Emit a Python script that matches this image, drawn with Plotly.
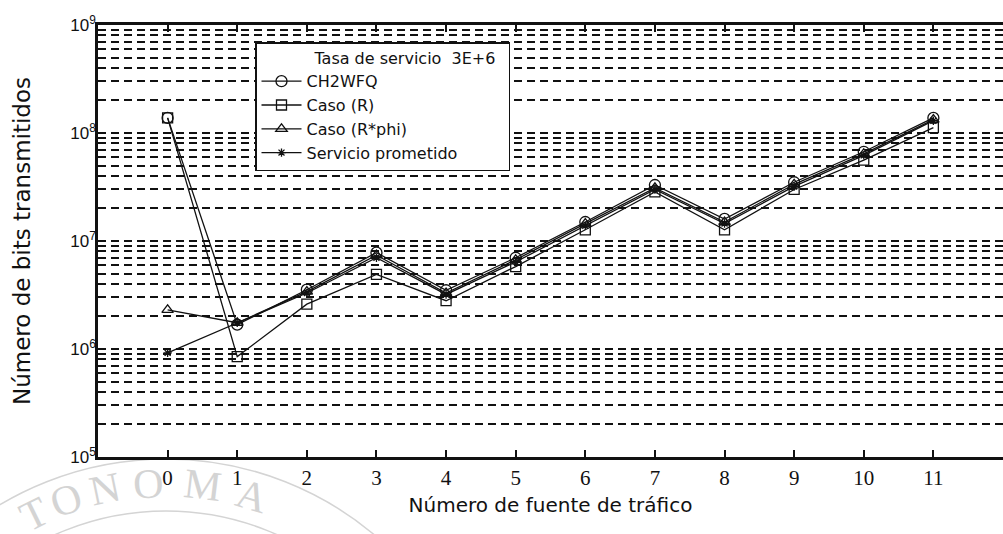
import math
import plotly.graph_objects as go

# Fuentes de tráfico (eje x)
fuentes = list(range(12))

# Bits transmitidos por fuente, tasa de servicio 3E+6
ch2wfq = [1.38e8, 1.68e6, 3.54e6, 7.8e6, 3.5e6, 7.0e6, 1.5e7, 3.3e7, 1.6e7, 3.5e7, 6.7e7, 1.38e8]
caso_r = [1.38e8, 8.5e5, 2.6e6, 4.9e6, 2.8e6, 5.8e6, 1.27e7, 2.85e7, 1.27e7, 3.0e7, 5.6e7, 1.12e8]
caso_r_phi = [2.3e6, 1.75e6, 3.4e6, 7.4e6, 3.3e6, 6.7e6, 1.45e7, 3.1e7, 1.5e7, 3.35e7, 6.4e7, 1.33e8]
servicio = [9.2e5, 1.75e6, 3.3e6, 7.0e6, 3.2e6, 6.4e6, 1.38e7, 3.0e7, 1.45e7, 3.2e7, 6.2e7, 1.3e8]

# Etiquetas del eje y (décadas) y rejilla en 1..9 x 10^n
decadas = [5, 6, 7, 8, 9]
y_tickvals = []
y_ticktext = []
for e in decadas:
    for m in range(1, 10):
        if e == 9 and m > 1:
            break
        y_tickvals.append(m * 10 ** e)
        y_ticktext.append(f"10<sup>{e}</sup>" if m == 1 else "")

W, H = 1003, 534
L, R, T, B = 98, 0, 25, 77
PW, PH = W - L - R, H - T - B

negro = "#111111"
sans = "DejaVu Sans"

fig = go.Figure()

series = [
    ("CH2WFQ", ch2wfq, "circle-open", 11),
    ("Caso (R)", caso_r, "square-open", 10),
    ("Caso (R*phi)", caso_r_phi, "triangle-up-open", 10),
    ("Servicio prometido", servicio, "asterisk-open", 7),
]
for nombre, valores, simbolo, tam in series:
    fig.add_trace(go.Scatter(
        x=fuentes, y=valores, name=nombre, mode="lines+markers",
        line=dict(color=negro, width=1.3),
        marker=dict(symbol=simbolo, size=tam, color=negro,
                    line=dict(color=negro, width=1.3)),
    ))

# Sello de fondo (marca de agua)
gris = "#d4d4d4"
cx, cy, rr = 166, 783, 300


def px2paper(px, py):
    return (px - L) / PW, (H - B - py) / PH


for r_ring in (324, 272):
    x0, y0 = px2paper(cx - r_ring, cy + r_ring)
    x1, y1 = px2paper(cx + r_ring, cy - r_ring)
    fig.add_shape(type="circle", xref="paper", yref="paper",
                  x0=x0, y0=y0, x1=x1, y1=y1,
                  line=dict(color=gris, width=1.5), layer="below")

letras = [("T", -132), ("O", -100), ("N", -61), ("O", -18),
          ("M", 36), ("A", 86)]
for ch, dx in letras:
    ang = math.asin(dx / rr)
    px = cx + rr * math.sin(ang)
    py = cy - rr * math.cos(ang)
    ax, ay = px2paper(px, py)
    fig.add_annotation(x=ax, y=ay, xref="paper", yref="paper", text=ch,
                       showarrow=False, textangle=math.degrees(ang),
                       font=dict(family="Liberation Serif", size=42, color=gris),
                       xanchor="center", yanchor="middle")

fig.update_layout(
    width=W, height=H,
    margin=dict(l=L, r=R, t=T, b=B),
    paper_bgcolor="white", plot_bgcolor="white",
    font=dict(family=sans, color=negro),
    showlegend=True,
    legend=dict(
        x=(255 - L) / PW, y=(H - B - 42) / PH, xanchor="left", yanchor="top",
        bgcolor="white", bordercolor=negro, borderwidth=1.5,
        font=dict(family=sans, size=16, color=negro),
        title=dict(text="\u00a0" * 11 + "Tasa de servicio  3E+6" + "\u00a0" * 2,
                   font=dict(family=sans, size=16, color=negro)),
        itemwidth=40, tracegroupgap=0,
    ),
    xaxis=dict(
        range=[-1, 12], tickvals=fuentes, ticktext=[str(v) for v in fuentes],
        showgrid=False, zeroline=False,
        showline=True, linecolor=negro, linewidth=2.5, mirror="ticks",
        ticks="inside", ticklen=7, tickwidth=1.5, tickcolor=negro,
        tickfont=dict(family="Liberation Serif", size=21, color=negro),
        title=dict(text="Número de fuente de tráfico", standoff=10,
                   font=dict(family=sans, size=20, color=negro)),
    ),
    yaxis=dict(
        type="log", range=[5, 9],
        tickvals=y_tickvals, ticktext=y_ticktext,
        showgrid=True, gridcolor=negro, gridwidth=1.6, griddash="8px,5px",
        zeroline=False, showline=True, linecolor=negro, linewidth=2.5,
        ticks="", ticklabelstandoff=-4,
        tickfont=dict(family="Liberation Sans", size=17, color=negro),
        title=dict(text="Número de bits transmitidos", standoff=34,
                   font=dict(family=sans, size=23, color=negro)),
    ),
)

fig.write_html("out.html")
